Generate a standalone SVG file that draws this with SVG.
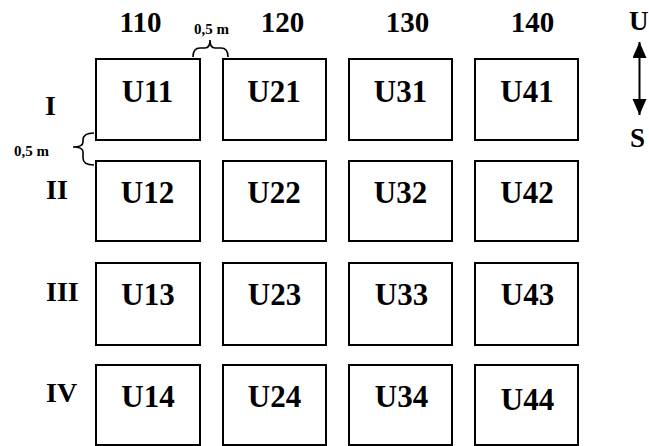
<svg xmlns="http://www.w3.org/2000/svg" width="649" height="446" viewBox="0 0 649 446">
<defs>
<style>
.box{fill:#fff;stroke:#000;stroke-width:2}
.t{font-family:"Liberation Serif","Times New Roman",serif;font-weight:bold;fill:#000}
.u{font-size:31px;text-anchor:middle}
.h{font-size:29px;text-anchor:middle}
.r{font-size:28px}
.s{font-size:15px;text-anchor:middle}
.br{fill:none;stroke:#000;stroke-width:1.6}
</style>
<marker id="ah" markerUnits="userSpaceOnUse" markerWidth="18" markerHeight="16" refX="16" refY="7" orient="auto-start-reverse">
<path d="M0,0 L16,7 L0,14 z" fill="#000"/>
</marker>
</defs>
<rect width="649" height="446" fill="#fff"/>
<g id="headers">
<text class="t h" x="140.5" y="32">110</text>
<text class="t h" x="282.5" y="32">120</text>
<text class="t h" x="407.5" y="32">130</text>
<text class="t h" x="532.5" y="32">140</text>
</g>
<g id="rows">
<text class="t r" x="45" y="115">I</text>
<text class="t r" x="46" y="199">II</text>
<text class="t r" x="46" y="301">III</text>
<text class="t r" x="46" y="402">IV</text>
</g>
<g id="U11"><rect class="box" x="96" y="59" width="104" height="81"/><text class="t u" x="147.5" y="102">U11</text></g>
<g id="U21"><rect class="box" x="223" y="59" width="103" height="81"/><text class="t u" x="274" y="102">U21</text></g>
<g id="U31"><rect class="box" x="349" y="59" width="103" height="81"/><text class="t u" x="400.5" y="102">U31</text></g>
<g id="U41"><rect class="box" x="475" y="59" width="103" height="81"/><text class="t u" x="527" y="102">U41</text></g>
<g id="U12"><rect class="box" x="96" y="161" width="104" height="80"/><text class="t u" x="147.5" y="203">U12</text></g>
<g id="U22"><rect class="box" x="223" y="161" width="103" height="80"/><text class="t u" x="274" y="203">U22</text></g>
<g id="U32"><rect class="box" x="349" y="161" width="103" height="80"/><text class="t u" x="400.5" y="203">U32</text></g>
<g id="U42"><rect class="box" x="475" y="161" width="103" height="80"/><text class="t u" x="527" y="203">U42</text></g>
<g id="U13"><rect class="box" x="96" y="263" width="104" height="82"/><text class="t u" x="148" y="305">U13</text></g>
<g id="U23"><rect class="box" x="223" y="263" width="103" height="82"/><text class="t u" x="274.5" y="305">U23</text></g>
<g id="U33"><rect class="box" x="349" y="263" width="103" height="82"/><text class="t u" x="401.5" y="305">U33</text></g>
<g id="U43"><rect class="box" x="475" y="263" width="103" height="82"/><text class="t u" x="527.5" y="305">U43</text></g>
<g id="U14"><rect class="box" x="96" y="365" width="104" height="80"/><text class="t u" x="148" y="407">U14</text></g>
<g id="U24"><rect class="box" x="223" y="365" width="103" height="80"/><text class="t u" x="274.5" y="407">U24</text></g>
<g id="U34"><rect class="box" x="349" y="365" width="103" height="80"/><text class="t u" x="401.5" y="407">U34</text></g>
<g id="U44"><rect class="box" x="475" y="365" width="103" height="80"/><text class="t u" x="527.5" y="410">U44</text></g>
<g id="dimensions">
<path class="br" d="M193,57 Q193,48 200,48 L205,48 Q210,48 210,40 Q210,48 215,48 L221,48 Q228,48 228,57"/>
<text class="t s" x="211.5" y="34">0,5 m</text>
<path class="br" d="M94,133 Q83,133 83,140 L83,142 Q83,147 73,147 Q83,147 83,152 L83,158 Q83,165 94,165"/>
<text class="t s" x="31.5" y="156">0,5 m</text>
</g>
<g id="compass">
<text class="t" style="font-size:27px" x="629" y="30">U</text>
<text class="t" style="font-size:27px" x="630" y="147">S</text>
</g>
<g id="connectors">
<line x1="639.5" y1="42" x2="639.5" y2="115" stroke="#000" stroke-width="2" marker-start="url(#ah)" marker-end="url(#ah)"/>
</g>
</svg>
